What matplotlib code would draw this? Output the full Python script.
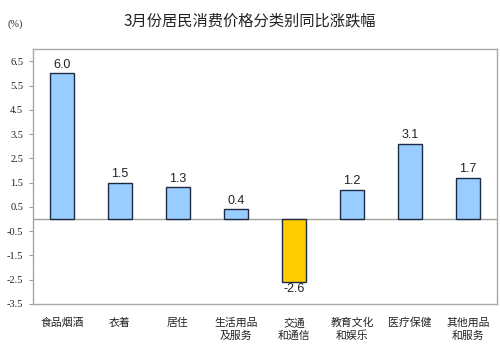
import matplotlib
matplotlib.use("Agg")
import matplotlib.pyplot as plt
import numpy as np

categories = ["食品烟酒", "衣着", "居住", "生活用品\n及服务", "交通\n和通信", "教育文化\n和娱乐", "医疗保健", "其他用品\n和服务"]
values = [6.0, 1.5, 1.3, 0.4, -2.6, 1.2, 3.1, 1.7]
yticks = [-3.5, -2.5, -1.5, -0.5, 0.5, 1.5, 2.5, 3.5, 4.5, 5.5, 6.5]
title = "3月份居民消费价格分类别同比涨跌幅"

cjk = ["Noto Sans CJK SC", "DejaVu Sans"]

fig = plt.figure(figsize=(5.0, 3.51), dpi=100)
ax = fig.add_axes([0.066, 0.134, 0.928, 0.726])

x = np.arange(len(values))
colors = ["#99CCFF" if v >= 0 else "#FFCC00" for v in values]
ax.bar(x, values, width=0.42, color=colors, edgecolor="#1C2A44", linewidth=1.0, zorder=3)
ax.axhline(0, color="#A0A0A0", linewidth=1.0, zorder=2)

for xi, v in zip(x, values):
    if v >= 0:
        ax.text(xi, v + 0.1, f"{v:.1f}", ha="center", va="bottom", fontsize=9,
                family="Liberation Sans", color="#222222")
    else:
        ax.text(xi, v - 0.02, f"{v:.1f}", ha="center", va="top", fontsize=9,
                family="Liberation Sans", color="#222222")

ax.set_xlim(-0.5, len(values) - 0.5)
ax.set_ylim(-3.5, 7.0)
ax.set_yticks(yticks)
ax.set_yticklabels([f"{t:.1f}" for t in yticks], family="Liberation Serif", fontsize=7.5, color="#222222")
ax.set_xticks(x)
ax.set_xticklabels(categories, family=cjk, fontsize=7.8, color="#222222", linespacing=1.3)
ax.tick_params(axis="x", length=0, pad=10)
ax.tick_params(axis="y", length=3, color="#A0A0A0", pad=4)
for s in ax.spines.values():
    s.set_color("#A8A8A8")
    s.set_linewidth(1.0)

fig.text(0.5, 0.94, title, ha="center", va="center", family=cjk, fontsize=11, color="#222222")
fig.text(0.016, 0.93, "(%)", ha="left", va="center", family="Liberation Serif", fontsize=7.5, color="#222222")

fig.savefig("out.png", dpi=100)
